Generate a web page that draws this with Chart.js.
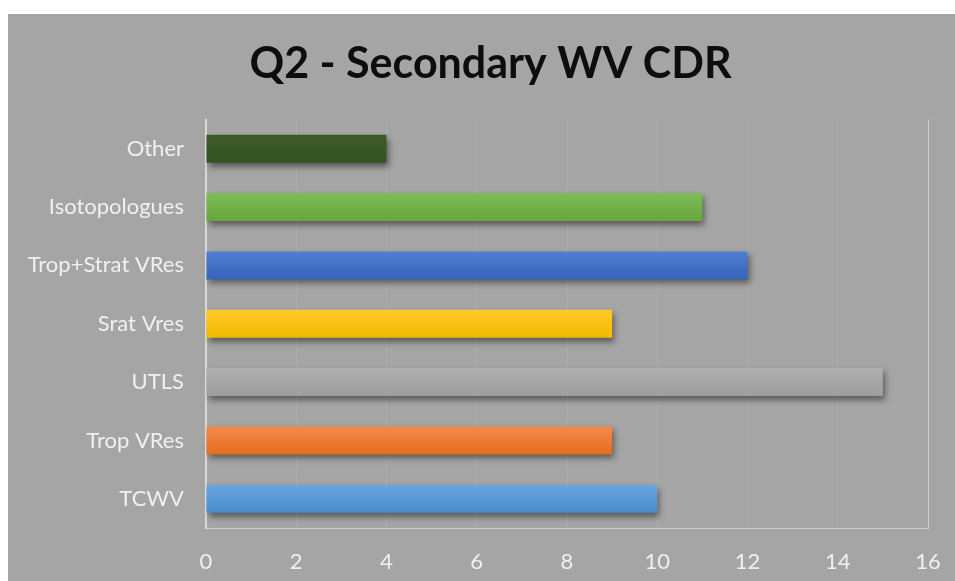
<!DOCTYPE html>
<html>
<head>
<meta charset="utf-8">
<script src="https://cdn.jsdelivr.net/npm/chart.js@4.4.1/dist/chart.umd.min.js"></script>
<style>
  html, body { margin: 0; padding: 0; background: #fff; }
  #wrap { position: absolute; left: 8px; top: 14px; width: 947px; height: 567px; background: #a5a5a5; }
</style>
</head>
<body>
<div id="wrap"><canvas id="chartQ2"></canvas></div>
<script>
"use strict";

var titleText = "Q2 - Secondary WV CDR";
var labels = ["TCWV", "Trop VRes", "UTLS", "Srat Vres", "Trop+Strat VRes", "Isotopologues", "Other"];
var values = [10, 9, 15, 9, 12, 11, 4];
var barTop = ["#6aa6e0", "#f48b4b", "#afafaf", "#ffcb2b", "#4f7fd4", "#7dbb58", "#3b5b27"];
var barBottom = ["#4a8bcb", "#e46d1f", "#9d9d9d", "#f5b800", "#3563b8", "#67a73c", "#345321"];
var xTicks = [0, 2, 4, 6, 8, 10, 12, 14, 16];

var FONT = "Lato, 'Open Sans', sans-serif";

// gradient fill + soft shadow like the Excel bars
var barStyle = {
  id: "barStyle",
  beforeDatasetsDraw: function (chart) {
    var ctx = chart.ctx;
    chart.getDatasetMeta(0).data.forEach(function (el, i) {
      var top = el.y - el.height / 2, bot = el.y + el.height / 2;
      var g = ctx.createLinearGradient(0, top, 0, bot);
      g.addColorStop(0, barTop[i]);
      g.addColorStop(1, barBottom[i]);
      el.options.backgroundColor = g;
    });
    ctx.save();
    ctx.shadowColor = "rgba(0,0,0,0.45)";
    ctx.shadowBlur = 6;
    ctx.shadowOffsetX = 2;
    ctx.shadowOffsetY = 4;
  },
  afterDatasetsDraw: function (chart) {
    chart.ctx.restore();
  }
};

// title sits a little right of the canvas centre in the original, so draw it here
var chartTitle = {
  id: "chartTitle",
  afterDraw: function (chart) {
    var ctx = chart.ctx;
    ctx.save();
    ctx.font = "bold 43px " + FONT;
    ctx.fillStyle = "#0d0d0d";
    ctx.textAlign = "center";
    ctx.textBaseline = "middle";
    ctx.fillText(titleText, 482.5, 50);
    ctx.restore();
  }
};

new Chart(document.getElementById("chartQ2"), {
  type: "bar",
  data: {
    labels: labels,
    datasets: [{
      data: values,
      backgroundColor: barBottom,
      barPercentage: 0.48,
      categoryPercentage: 1
    }]
  },
  plugins: [barStyle, chartTitle],
  options: {
    indexAxis: "y",
    responsive: true, maintainAspectRatio: false,
    animation: false,
    layout: { padding: { top: 105.5, right: 27, bottom: 0, left: 0 } },
    plugins: {
      legend: { display: false },
      tooltip: { enabled: false },
      title: { display: false }
    },
    scales: {
      x: {
        min: 0, max: 16,
        afterBuildTicks: function (axis) { axis.ticks = xTicks.map(function (v) { return { value: v }; }); },
        afterFit: function (axis) {
          axis.height = 53;
          axis.paddingLeft = 0;
          axis.paddingRight = 0;
        },
        grid: {
          color: function (c) {
            if (c.index === 0) return "#d9d9d9";
            if (c.index === xTicks.length - 1) return "#cfcfcf";
            return "#adadad";
          },
          drawTicks: false
        },
        border: { color: "#cfcfcf", width: 1 },
        ticks: { color: "#f0f0f0", padding: 21, maxRotation: 0, font: { family: FONT, size: 22 } }
      },
      y: {
        reverse: true,
        afterFit: function (axis) { axis.width = 198; },
        grid: { display: false, drawTicks: false },
        border: { color: "#d9d9d9", width: 2 },
        ticks: { color: "#f0f0f0", padding: 22, font: { family: FONT, size: 22 } }
      }
    }
  }
});
</script>
</body>
</html>
